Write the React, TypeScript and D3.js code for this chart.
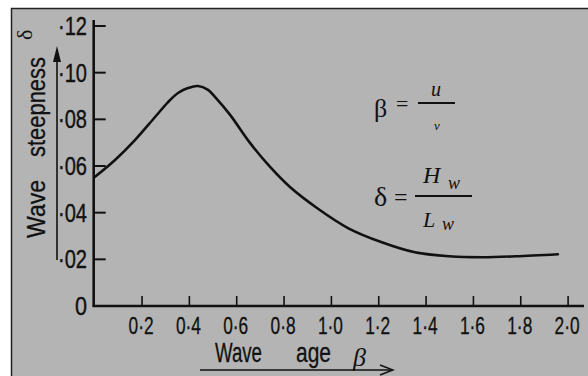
import React from "react";
import * as d3 from "d3";

const betaVals = [0, 0.086, 0.17, 0.255, 0.31, 0.352, 0.394, 0.436, 0.479, 0.508, 0.572, 0.656, 0.741, 0.825, 0.939, 1.072, 1.213, 1.353, 1.498, 1.638, 1.779, 1.957];
const deltaVals = [0.0553, 0.0626, 0.0711, 0.081, 0.0874, 0.0913, 0.0934, 0.0943, 0.0926, 0.0896, 0.0819, 0.0699, 0.0596, 0.051, 0.042, 0.0333, 0.0273, 0.023, 0.0213, 0.0209, 0.0213, 0.0222];
const xTickVals = [0.2, 0.4, 0.6, 0.8, 1.0, 1.2, 1.4, 1.6, 1.8, 2.0];
const xTickLabels = ["0·2", "0·4", "0·6", "0·8", "1·0", "1·2", "1·4", "1·6", "1·8", "2·0"];
const yTickVals = [0, 0.02, 0.04, 0.06, 0.08, 0.10, 0.12];
const yTickLabels = ["0", "·02", "·04", "·06", "·08", "·10", "·12"];

const W = 588;
const H = 376;
const BG = "#b4b4b4";
const INK = "#111";
const SANS = "'Liberation Sans Narrow', 'Liberation Sans', 'DejaVu Sans Condensed', sans-serif";
const SERIF = "'Liberation Serif', 'DejaVu Serif', serif";

export default function App() {
  const x = d3.scaleLinear().domain([0, 2]).range([94.7, 568.1]);
  const y = d3.scaleLinear().domain([0, 0.12]).range([306, 26]);
  const pts: [number, number][] = betaVals.map((b, i) => [b, deltaVals[i]]);
  const line = d3
    .line<[number, number]>()
    .x((d) => x(d[0]))
    .y((d) => y(d[1]))
    .curve(d3.curveCatmullRom.alpha(0.5));
  const x0 = x(0);
  const y0 = y(0);

  return (
    <svg
      width={W}
      height={H}
      style={{ position: "absolute", left: 0, top: 0, display: "block" }}
    >
      <rect x={0} y={0} width={W} height={H} fill="#fff" />
      <rect x={11} y={8} width={W - 11} height={H - 8} fill={BG} />
      <line x1={11.5} y1={8} x2={11.5} y2={H} stroke="#222" strokeWidth={1.5} />
      <line x1={11} y1={8.5} x2={W} y2={8.5} stroke="#222" strokeWidth={1.5} />

      {/* Y axis */}
      <line x1={x0 - 1} y1={20} x2={x0 - 1} y2={y0 + 1} stroke={INK} strokeWidth={2.6} />
      {yTickVals.map((v, i) => (
        <g key={"yt" + i}>
          {v > 0 && (
            <line x1={x0} y1={y(v)} x2={x0 + 11} y2={y(v)} stroke={INK} strokeWidth={2} />
          )}
          <text
            x={87}
            y={y(v) + 9}
            textAnchor="end"
            fontFamily={SANS}
            fontSize={26}
            fill={INK}
            stroke={INK}
            strokeWidth={0.4}
            textLength={v === 0 ? 12 : 29}
            lengthAdjust="spacingAndGlyphs"
          >
            {yTickLabels[i]}
          </text>
        </g>
      ))}

      {/* X axis */}
      <line x1={x0 - 2} y1={y0} x2={584} y2={y0} stroke={INK} strokeWidth={2.6} />
      {xTickVals.map((v, i) => (
        <g key={"xt" + i}>
          <line x1={x(v)} y1={y0 - 10} x2={x(v)} y2={y0} stroke={INK} strokeWidth={1.6} />
          <text
            x={x(v) - 1}
            y={334}
            textAnchor="middle"
            fontFamily={SANS}
            fontSize={24}
            fill={INK}
            stroke={INK}
            strokeWidth={0.3}
            textLength={25}
            lengthAdjust="spacingAndGlyphs"
          >
            {xTickLabels[i]}
          </text>
        </g>
      ))}

      {/* curve */}
      <path d={line(pts) || ""} fill="none" stroke={INK} strokeWidth={2.6} strokeLinecap="round" />

      {/* Y axis title */}
      <g transform="translate(45,238) rotate(-90)">
        <text x={0} y={0} fontFamily={SANS} fontSize={26} fill={INK} stroke={INK} strokeWidth={0.3} textLength={58} lengthAdjust="spacingAndGlyphs">
          Wave
        </text>
      </g>
      <g transform="translate(45,157) rotate(-90)">
        <text x={0} y={0} fontFamily={SANS} fontSize={26} fill={INK} stroke={INK} strokeWidth={0.3} textLength={100} lengthAdjust="spacingAndGlyphs">
          steepness
        </text>
      </g>
      <g transform="translate(32,40) rotate(-90)">
        <text x={0} y={0} fontFamily={SERIF} fontSize={22} fill={INK}>
          δ
        </text>
      </g>
      <line x1={57} y1={260} x2={57} y2={58} stroke={INK} strokeWidth={1.6} />
      <path d="M57,46 L53,62 L61,62 Z" fill={INK} />

      {/* X axis title */}
      <text x={215} y={362} fontFamily={SANS} fontSize={28} fill={INK} stroke={INK} strokeWidth={0.3} textLength={47} lengthAdjust="spacingAndGlyphs">
        Wave
      </text>
      <text x={296} y={362} fontFamily={SANS} fontSize={28} fill={INK} stroke={INK} strokeWidth={0.3} textLength={35} lengthAdjust="spacingAndGlyphs">
        age
      </text>
      <text x={353} y={366} fontFamily={SERIF} fontStyle="italic" fontSize={26} fill={INK}>
        β
      </text>
      <line x1={200} y1={370} x2={392} y2={370} stroke={INK} strokeWidth={1.4} />
      <path d="M380,365 L393,370 L380,375" fill="none" stroke={INK} strokeWidth={1.4} />

      {/* formula beta = u / v */}
      <text x={374} y={117} fontFamily={SERIF} fontSize={26} fill={INK}>
        β
      </text>
      <text x={396} y={111} fontFamily={SERIF} fontSize={22} fill={INK}>
        =
      </text>
      <line x1={418} y1={103} x2={455} y2={103} stroke={INK} strokeWidth={1.8} />
      <text x={436} y={96} textAnchor="middle" fontFamily={SERIF} fontStyle="italic" fontSize={20} fill={INK}>
        u
      </text>
      <text x={437} y={130} textAnchor="middle" fontFamily={SERIF} fontStyle="italic" fontSize={13} fill={INK}>
        v
      </text>

      {/* formula delta = Hw / Lw */}
      <text x={374} y={206} fontFamily={SERIF} fontSize={28} fill={INK}>
        δ
      </text>
      <text x={394} y={205} fontFamily={SERIF} fontSize={24} fill={INK}>
        =
      </text>
      <line x1={415} y1={196} x2={472} y2={196} stroke={INK} strokeWidth={1.8} />
      <text x={423} y={183} fontFamily={SERIF} fontStyle="italic" fontSize={24} fill={INK}>
        H
      </text>
      <text x={448} y={189} fontFamily={SERIF} fontStyle="italic" fontSize={18} fill={INK}>
        w
      </text>
      <text x={423} y={227} fontFamily={SERIF} fontStyle="italic" fontSize={22} fill={INK}>
        L
      </text>
      <text x={442} y={230} fontFamily={SERIF} fontStyle="italic" fontSize={18} fill={INK}>
        w
      </text>
    </svg>
  );
}
